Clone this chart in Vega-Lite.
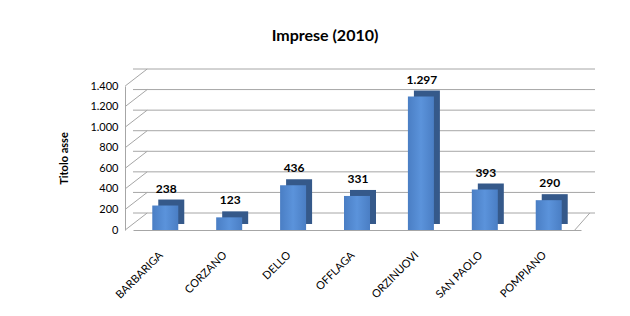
{
  "$schema": "https://vega.github.io/schema/vega-lite/v6.json",
  "width": 448,
  "height": 144,
  "autosize": {"type": "none"},
  "padding": {"left": 133, "top": 86, "right": 49, "bottom": 86},
  "background": "white",
  "config": {
    "locale": {"number": {"decimal": ",", "thousands": ".", "grouping": [3], "currency": ["€", ""]}},
    "view": {"stroke": null},
    "font": "Lato"
  },
  "title": {
    "text": "Imprese  (2010)",
    "fontSize": 16,
    "fontWeight": "bold",
    "font": "Lato",
    "color": "#000000",
    "dx": -32,
    "offset": 25
  },
  "data": {
    "values": [
      {"comune": "BARBARIGA", "imprese": 238},
      {"comune": "CORZANO", "imprese": 123},
      {"comune": "DELLO", "imprese": 436},
      {"comune": "OFFLAGA", "imprese": 331},
      {"comune": "ORZINUOVI", "imprese": 1297},
      {"comune": "SAN PAOLO", "imprese": 393},
      {"comune": "POMPIANO", "imprese": 290}
    ]
  },
  "datasets": {
    "grid": [
      {"v": 0}, {"v": 200}, {"v": 400}, {"v": 600}, {"v": 800}, {"v": 1000}, {"v": 1200}, {"v": 1400}
    ],
    "floor": [{"v": 0}]
  },
  "encoding": {
    "x": {
      "field": "comune",
      "type": "nominal",
      "sort": null,
      "scale": {
        "domain": ["BARBARIGA", "CORZANO", "DELLO", "OFFLAGA", "ORZINUOVI", "SAN PAOLO", "POMPIANO"],
        "paddingInner": 0.59,
        "paddingOuter": 0.3
      },
      "axis": {
        "title": null,
        "labelAngle": -45,
        "labelFontSize": 11,
        "labelColor": "#000000",
        "labelPadding": 19,
        "labelOffset": -8,
        "ticks": false,
        "domainColor": "#A6A6A6",
        "labelFont": "Lato"
      }
    },
    "y": {
      "field": "imprese",
      "type": "quantitative",
      "scale": {"domain": [0, 1400]},
      "axis": {
        "title": "Titolo asse",
        "titleFontSize": 11,
        "titleFontWeight": "bold",
        "titleColor": "#000000",
        "titlePadding": 20,
        "values": [0, 200, 400, 600, 800, 1000, 1200, 1400],
        "format": ",d",
        "labelFontSize": 11,
        "labelColor": "#000000",
        "labelPadding": 7,
        "offset": 8,
        "ticks": false,
        "grid": false,
        "domainColor": "#A6A6A6"
      }
    }
  },
  "layer": [
    {
      "data": {"name": "grid"},
      "mark": {"type": "rule", "color": "#A6A6A6", "strokeWidth": 1, "xOffset": 14, "yOffset": -17},
      "encoding": {
        "x": null,
        "y": {"field": "v", "type": "quantitative"}
      }
    },
    {
      "data": {"name": "grid"},
      "mark": {"type": "rule", "color": "#A6A6A6", "strokeWidth": 1, "xOffset": -27, "x2Offset": -5, "y2Offset": -17},
      "encoding": {
        "x": {"datum": "BARBARIGA", "bandPosition": 0},
        "x2": {"datum": "BARBARIGA", "bandPosition": 0},
        "y": {"field": "v", "type": "quantitative"},
        "y2": {"field": "v"}
      }
    },
    {
      "data": {"name": "floor"},
      "mark": {"type": "rule", "color": "#A6A6A6", "strokeWidth": 1, "xOffset": 13, "x2Offset": 28, "y2Offset": -17},
      "encoding": {
        "x": {"datum": "POMPIANO", "bandPosition": 1},
        "x2": {"datum": "POMPIANO", "bandPosition": 1},
        "y": {"field": "v", "type": "quantitative"},
        "y2": {"field": "v"}
      }
    },
    {
      "mark": {"type": "bar", "color": "#35598A", "xOffset": 6, "yOffset": -6, "size": 26},
      "encoding": {}
    },
    {
      "mark": {
        "type": "bar",
        "size": 26,
        "color": {
          "x1": 0, "y1": 0, "x2": 1, "y2": 0,
          "gradient": "linear",
          "stops": [
            {"offset": 0, "color": "#4A7EC4"},
            {"offset": 0.5, "color": "#5B93DB"},
            {"offset": 1, "color": "#4A7EC4"}
          ]
        }
      },
      "encoding": {}
    },
    {
      "mark": {"type": "text", "dy": -17, "xOffset": 1, "fontSize": 12, "fontWeight": "bold", "color": "#000000", "font": "Lato"},
      "encoding": {
        "text": {"field": "imprese", "type": "quantitative", "format": ",d"}
      }
    }
  ]
}
